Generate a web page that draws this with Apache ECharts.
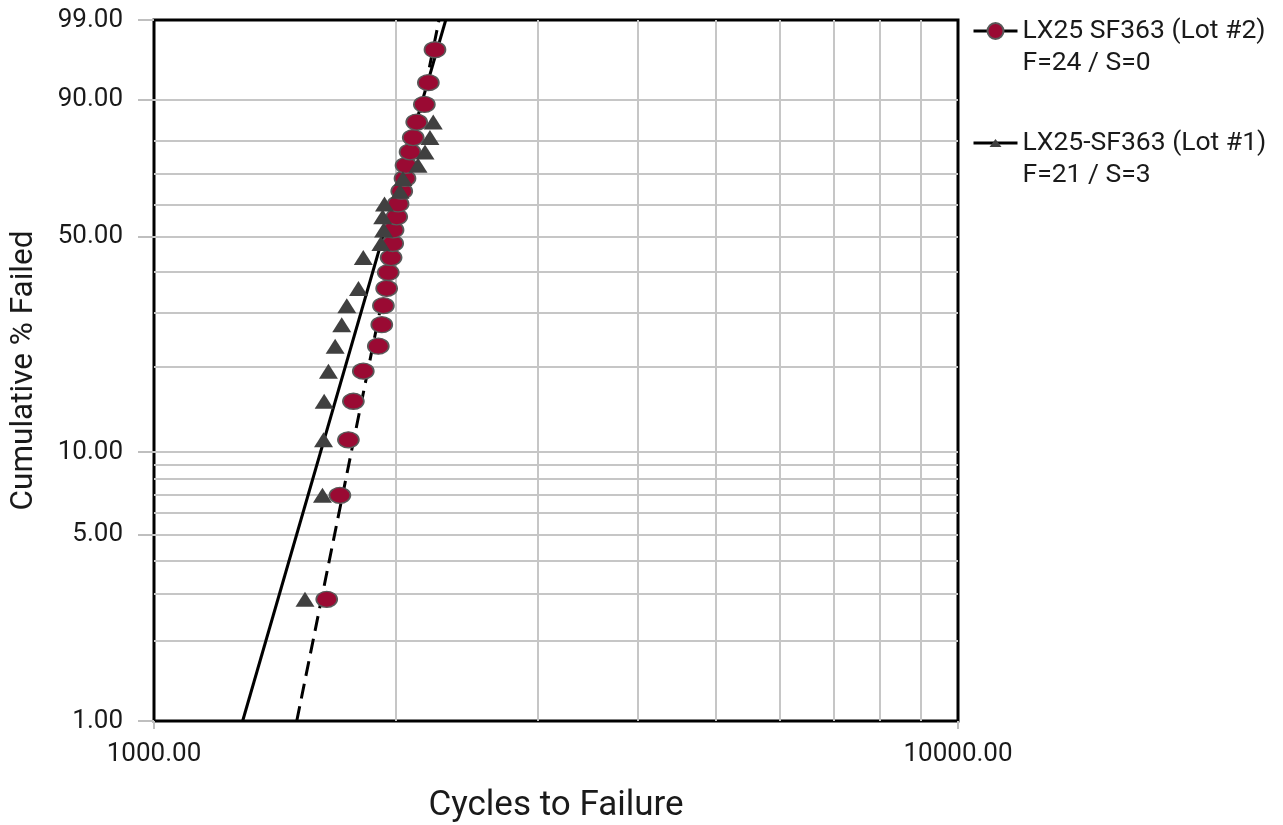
<!DOCTYPE html>
<html>
<head>
<meta charset="utf-8">
<script src="https://cdn.jsdelivr.net/npm/echarts@6/dist/echarts.min.js"></script>
<style>
html, body { margin: 0; padding: 0; background: #fff; }
#weibull_chart { width: 1283px; height: 825px; }
</style>
</head>
<body>
<div id="weibull_chart"></div>
<script>
// cycles to failure and median ranks (%)
var lot2Cycles = [1640, 1703, 1745, 1770, 1821, 1901, 1920, 1929, 1947, 1956, 1972, 1981,
                  1983, 2004, 2012, 2033, 2052, 2058, 2082, 2101, 2122, 2169, 2194, 2236];
var lot2Pct = [2.87, 6.97, 11.07, 15.16, 19.26, 23.36, 27.46, 31.56, 35.66, 39.75, 43.85, 47.95,
               52.05, 56.15, 60.25, 64.34, 68.44, 72.54, 76.64, 80.74, 84.84, 88.93, 93.03, 97.13];

var lot1Cycles = [1541, 1620, 1625, 1628, 1648, 1680, 1712, 1737, 1796, 1821,
                  1915, 1930, 1925, 1935, 2023, 2040, 2130, 2173, 2204, 2225];
var lot1Pct = [2.87, 6.97, 11.07, 15.16, 19.26, 23.36, 27.46, 31.56, 35.66, 43.85,
               47.95, 52.05, 56.15, 60.25, 64.34, 68.44, 72.54, 76.64, 80.74, 84.84];

// fitted lines, ends at 1 % and 99 %
var fitPct = [1, 99];
var lot2FitCycles = [1505, 2262];
var lot1FitCycles = [1289, 2306];

var xLabelValues = [1000, 10000];
var xGridValues = [2000, 3000, 4000, 5000, 6000, 7000, 8000, 9000];
var yLabelValues = [1, 5, 10, 50, 90, 99];
var yGridValues = [2, 3, 4, 5, 6, 7, 8, 9, 10, 20, 30, 40, 50, 60, 70, 80, 90];

var lot2Name = 'LX25 SF363 (Lot #2)';
var lot1Name = 'LX25-SF363 (Lot #1)';
var legendSub = {};
legendSub[lot2Name] = 'F=24 / S=0';
legendSub[lot1Name] = 'F=21 / S=3';

// weibull paper: y = ln(-ln(1-F)), x = log10(cycles)
function wb(p) { return Math.log(-Math.log(1 - p / 100)); }
function lg(c) { return Math.log10(c); }
function pairs(cs, ps) {
    return cs.map(function (c, i) { return [lg(c), wb(ps[i])]; });
}

var font = 'Roboto';
var txt = '#1a1a1a';
var gridGray = '#c6c6c6';

var chartWeibull = echarts.init(document.getElementById('weibull_chart'));

var option = {
    animation: false,
    grid: {
        show: true,
        left: 154,
        right: 325,
        top: 20,
        bottom: 104,
        borderColor: '#000',
        borderWidth: 3,
        backgroundColor: '#fff',
        containLabel: false,
        outerBoundsMode: 'none'
    },
    legend: {
        orient: 'vertical',
        left: 972,
        top: -17,
        padding: 0,
        itemGap: 16,
        itemWidth: 44,
        itemHeight: 20,
        selectedMode: false,
        data: [lot2Name, lot1Name],
        lineStyle: { type: 'solid', width: 3, color: '#000' },
        // blank first line keeps the name level with the icon
        formatter: function (name) { return ' \n' + name + '\n' + legendSub[name]; },
        textStyle: {
            fontFamily: font,
            fontSize: 26.5,
            color: txt,
            lineHeight: 32
        }
    },
    xAxis: [
        {
            type: 'value',
            min: 3,
            max: 4,
            position: 'bottom',
            axisLine: { show: false, onZero: false },
            axisTick: {
                show: true,
                customValues: xLabelValues.map(lg),
                length: 8,
                lineStyle: { color: '#bfbfbf', width: 2 }
            },
            axisLabel: {
                customValues: xLabelValues.map(lg),
                formatter: function (v) { return Math.pow(10, v).toFixed(2); },
                margin: 20,
                fontFamily: font,
                fontSize: 26,
                color: txt
            },
            splitLine: { show: false },
            name: 'Cycles to Failure',
            nameLocation: 'middle',
            nameGap: 68,
            nameTextStyle: { fontFamily: font, fontSize: 35, color: txt }
        },
        {
            type: 'value',
            min: 3,
            max: 4,
            position: 'top',
            axisLine: { show: false, onZero: false },
            axisTick: { show: false, customValues: xGridValues.map(lg) },
            axisLabel: { show: false },
            splitLine: {
                show: true,
                customValues: xGridValues.map(lg),
                lineStyle: { color: gridGray, width: 2 }
            }
        }
    ],
    yAxis: [
        {
            type: 'value',
            min: wb(1),
            max: wb(99),
            position: 'left',
            axisLine: { show: false, onZero: false },
            axisTick: {
                show: true,
                customValues: yLabelValues.map(wb),
                length: 16,
                lineStyle: { color: '#bfbfbf', width: 2 }
            },
            axisLabel: {
                customValues: yLabelValues.map(wb),
                formatter: function (v) {
                    return ((1 - Math.exp(-Math.exp(v))) * 100).toFixed(2);
                },
                margin: 31,
                fontFamily: font,
                fontSize: 26,
                color: txt
            },
            splitLine: { show: false },
            name: 'Cumulative % Failed',
            nameLocation: 'middle',
            nameGap: 114,
            nameRotate: 90,
            nameTextStyle: { fontFamily: font, fontSize: 31.5, color: txt }
        },
        {
            type: 'value',
            min: wb(1),
            max: wb(99),
            position: 'right',
            axisLine: { show: false, onZero: false },
            axisTick: { show: false, customValues: yGridValues.map(wb) },
            axisLabel: { show: false },
            splitLine: {
                show: true,
                customValues: yGridValues.map(wb),
                lineStyle: { color: gridGray, width: 2 }
            }
        }
    ],
    series: [
        {
            name: lot1Name,
            type: 'line',
            xAxisIndex: 0,
            yAxisIndex: 0,
            z: 2,
            showSymbol: false,
            symbol: 'path://M0,0M16,16M2,12L8,4L14,12Z',
            itemStyle: { color: '#404040' },
            lineStyle: { color: '#000', width: 3, type: 'solid' },
            data: pairs(lot1FitCycles, fitPct)
        },
        {
            name: lot2Name,
            type: 'line',
            xAxisIndex: 0,
            yAxisIndex: 0,
            z: 2,
            showSymbol: false,
            symbol: 'circle',
            itemStyle: { color: '#9a0a33', borderColor: '#595959', borderWidth: 1.5 },
            lineStyle: { color: '#000', width: 3, type: [15, 8] },
            data: pairs(lot2FitCycles, fitPct)
        },
        {
            name: 'lot2 points',
            type: 'scatter',
            z: 3,
            symbol: 'path://M0,8A10,8,0,1,1,20,8A10,8,0,1,1,0,8Z',
            symbolSize: [21, 16],
            itemStyle: { color: '#9a0a33', borderColor: '#595959', borderWidth: 1.5, opacity: 1 },
            data: pairs(lot2Cycles, lot2Pct)
        },
        {
            name: 'lot1 points',
            type: 'scatter',
            z: 4,
            symbol: 'triangle',
            symbolSize: [19, 15],
            itemStyle: { color: '#404040', opacity: 1 },
            data: pairs(lot1Cycles, lot1Pct)
        }
    ]
};

chartWeibull.setOption(option);

window.addEventListener('resize', function () {
    chartWeibull.resize();
});
</script>
</body>
</html>
